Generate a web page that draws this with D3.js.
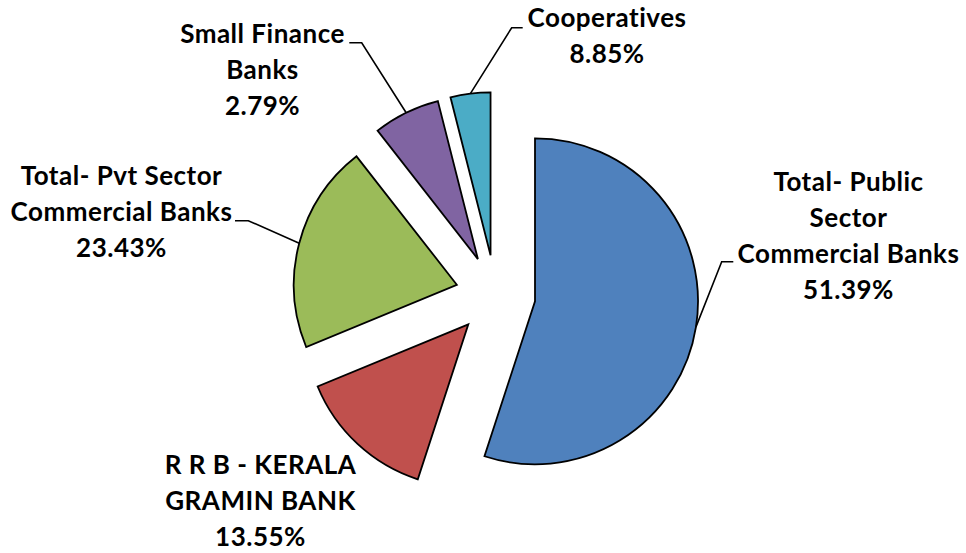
<!DOCTYPE html>
<html>
<head>
<meta charset="utf-8">
<script src="https://cdn.jsdelivr.net/npm/d3@7"></script>
<style>
  body { margin: 0; background: #fff; }
  svg { display: block; }
  .lbl { font-family: Lato, "Open Sans", sans-serif; font-weight: 700; fill: #000; }
</style>
</head>
<body>
<div id="chart"></div>
<script>
// slices clockwise from 12 o'clock
var categories = ["Total- Public Sector Commercial Banks", "R R B - KERALA GRAMIN BANK",
                  "Total- Pvt Sector Commercial Banks", "Small Finance Banks", "Cooperatives"];
// slice sizes as drawn in the picture (percent of the circle)
var shares = [55.0, 13.75, 20.67, 6.6, 3.95];
// percentages printed on the labels
var labelPct = ["51.39%", "13.55%", "23.43%", "2.79%", "8.85%"];
// label text split into lines
var labelLines = [
  ["Total- Public", "Sector", "Commercial Banks"],
  ["R R B - KERALA", "GRAMIN BANK"],
  ["Total- Pvt Sector", "Commercial Banks"],
  ["Small Finance", "Banks"],
  ["Cooperatives"]
];
var colors = ["#4F81BD", "#C0504D", "#9BBB59", "#8064A2", "#4BACC6"];

var width = 966, height = 553;
var cx = 495.5, cy = 295, radius = 163, explode = 40;
var lineGap = 36;

// label placement: text centre x, first baseline y, leader elbow and end (null = no leader)
var labelPos = [
  {x: 848.5, y: 190.7, elbow: [721.7, 261.7], end: [733.3, 261.7]},
  {x: 260.5, y: 474.3, elbow: null},
  {x: 121.5, y: 185,   elbow: [248.3, 220.7], end: [235, 220.7]},
  {x: 262.5, y: 43.3,  elbow: [361.7, 42.7],  end: [349.3, 42.7]},
  {x: 607,   y: 26.7,  elbow: [511.7, 27.7],  end: [522.7, 27.7]}
];

var svg = d3.select("#chart").append("svg")
    .attr("width", width)
    .attr("height", height);

var pie = d3.pie().sort(null).value(function(d) { return d; });
var arc = d3.arc().innerRadius(0).outerRadius(radius);
var arcs = pie(shares);

function offsetOf(d) {
  return d3.pointRadial((d.startAngle + d.endAngle) / 2, explode);
}

var g = svg.append("g").attr("transform", "translate(" + cx + "," + cy + ")");

g.selectAll("path.slice")
    .data(arcs)
  .enter().append("path")
    .attr("class", "slice")
    .attr("transform", function(d) { return "translate(" + offsetOf(d) + ")"; })
    .attr("d", arc)
    .style("fill", function(d, i) { return colors[i]; })
    .style("stroke", "#000")
    .style("stroke-width", 1.8)
    .style("stroke-linejoin", "miter");

// leader lines from the middle of each slice's rim
arcs.forEach(function(d, i) {
  var p = labelPos[i];
  if (!p.elbow) return;
  var mid = (d.startAngle + d.endAngle) / 2;
  var off = offsetOf(d);
  var rim = d3.pointRadial(mid, radius);
  var start = [cx + off[0] + rim[0], cy + off[1] + rim[1]];
  svg.append("path")
      .attr("d", d3.line()([start, p.elbow, p.end]))
      .style("fill", "none")
      .style("stroke", "#000")
      .style("stroke-width", 1.6);
});

// labels
categories.forEach(function(c, i) {
  var p = labelPos[i];
  var lines = labelLines[i].concat([labelPct[i]]);
  var t = svg.append("text")
      .attr("class", "lbl")
      .attr("text-anchor", "middle")
      .style("font-size", "26px")
      .style("letter-spacing", "0.5px");
  lines.forEach(function(l, j) {
    t.append("tspan")
        .attr("x", p.x)
        .attr("y", p.y + j * lineGap)
        .text(l);
  });
});
</script>
</body>
</html>
